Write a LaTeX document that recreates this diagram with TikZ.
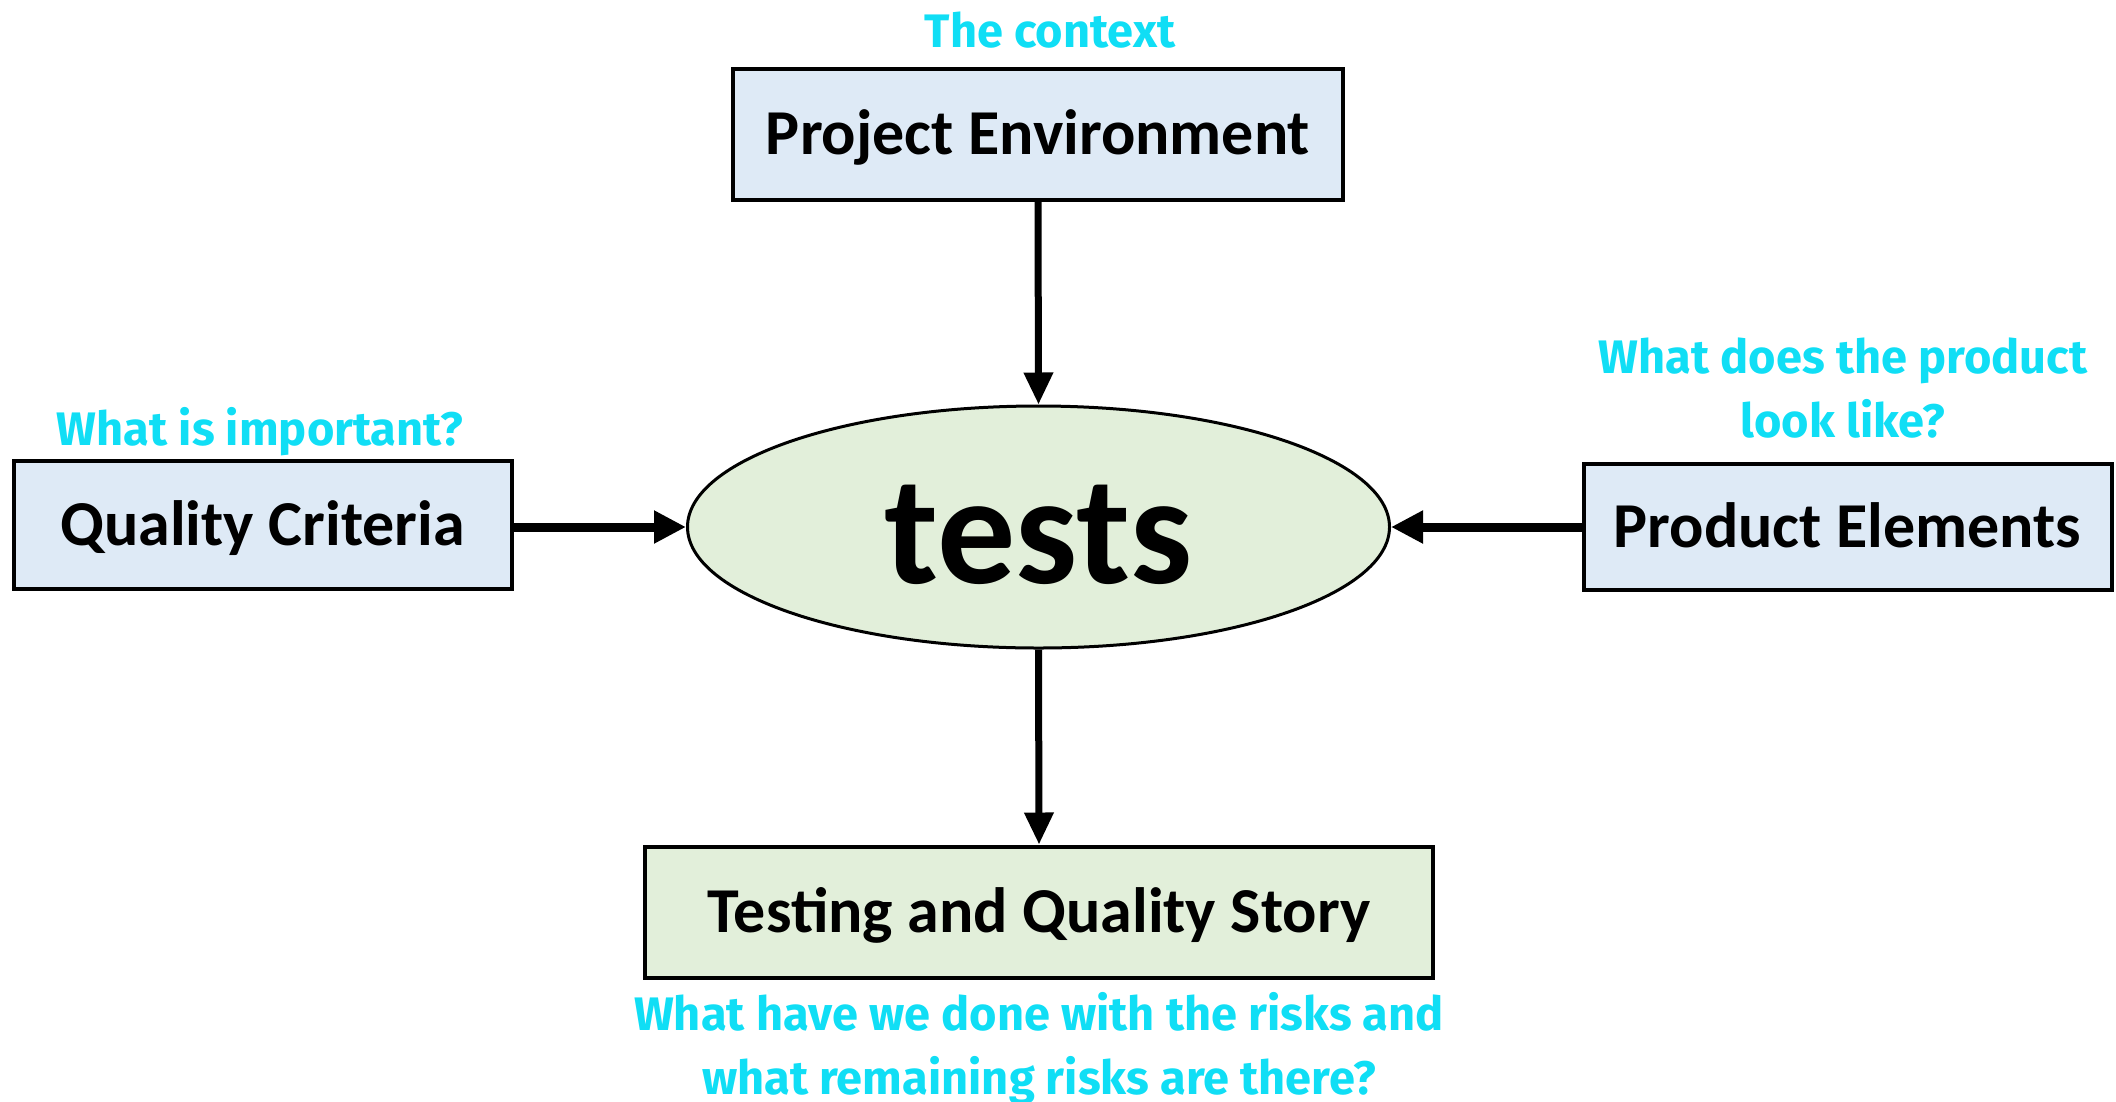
\documentclass[tikz,border=0pt]{standalone}
\usepackage{fontspec}
\setmainfont{Carlito}
\newfontfamily\qfont{Fira Sans}
\usetikzlibrary{shapes.geometric,arrows.meta}
\definecolor{boxblue}{RGB}{222,234,246}
\definecolor{boxgreen}{RGB}{226,239,218}
\definecolor{qcyan}{RGB}{16,222,245}
\tikzset{
  box/.style={draw=black, line width=4pt, inner sep=0pt, text height=41pt, text depth=0pt,
    font=\fontsize{64}{70}\selectfont\bfseries},
  question/.style={text=qcyan, inner sep=0pt, align=center, font=\qfont\fontsize{47}{64}\selectfont\bfseries},
  thickarrow/.style={line width=9pt, -{Triangle[length=32pt,width=31pt]}},
  thinarrow/.style={line width=7pt, -{Triangle[length=32pt,width=28pt]}},
}
\begin{document}
\begin{tikzpicture}[x=1pt,y=-1pt]
\useasboundingbox (0,0) rectangle (2116,1101);
\node[box, fill=boxblue, minimum width=610pt, minimum height=131pt] (env) at (1038,134) {Project Environment};
\node[box, fill=boxblue, minimum width=498pt, minimum height=128pt] (qc) at (262.5,524.5) {Quality Criteria};
\node[box, fill=boxblue, minimum width=528pt, minimum height=126pt] (pe) at (1847.5,526.5) {Product Elements};
\node[box, fill=boxgreen, minimum width=788pt, minimum height=131pt] (ts) at (1039,912) {Testing and Quality Story};
\node[ellipse, draw=black, line width=3pt, fill=boxgreen, minimum width=702pt, minimum height=242pt, inner sep=0pt,
      text height=112pt, text depth=0pt,
      font=\fontsize{156}{160}\selectfont\bfseries] (ell) at (1038.5,527) {tests};
\node[question, anchor=base] (qenv) at (1050,47) {The context};
\node[question, anchor=base] (qqc) at (260,445) {What is important?};
\node[question] (qpe) at (1843,388) {What does the product\\look like?};
\node[question] (qts) at (1039,1049) {What have we done with the risks and\\what remaining risks are there?};
\draw[thinarrow] (env.south) -- (ell.north);
\draw[thinarrow] (ell.south) -- (ts.north);
\draw[thickarrow] (qc.east |- ell.west) -- (ell.west);
\draw[thickarrow] (pe.west |- ell.east) -- (ell.east);
\end{tikzpicture}
\end{document}
